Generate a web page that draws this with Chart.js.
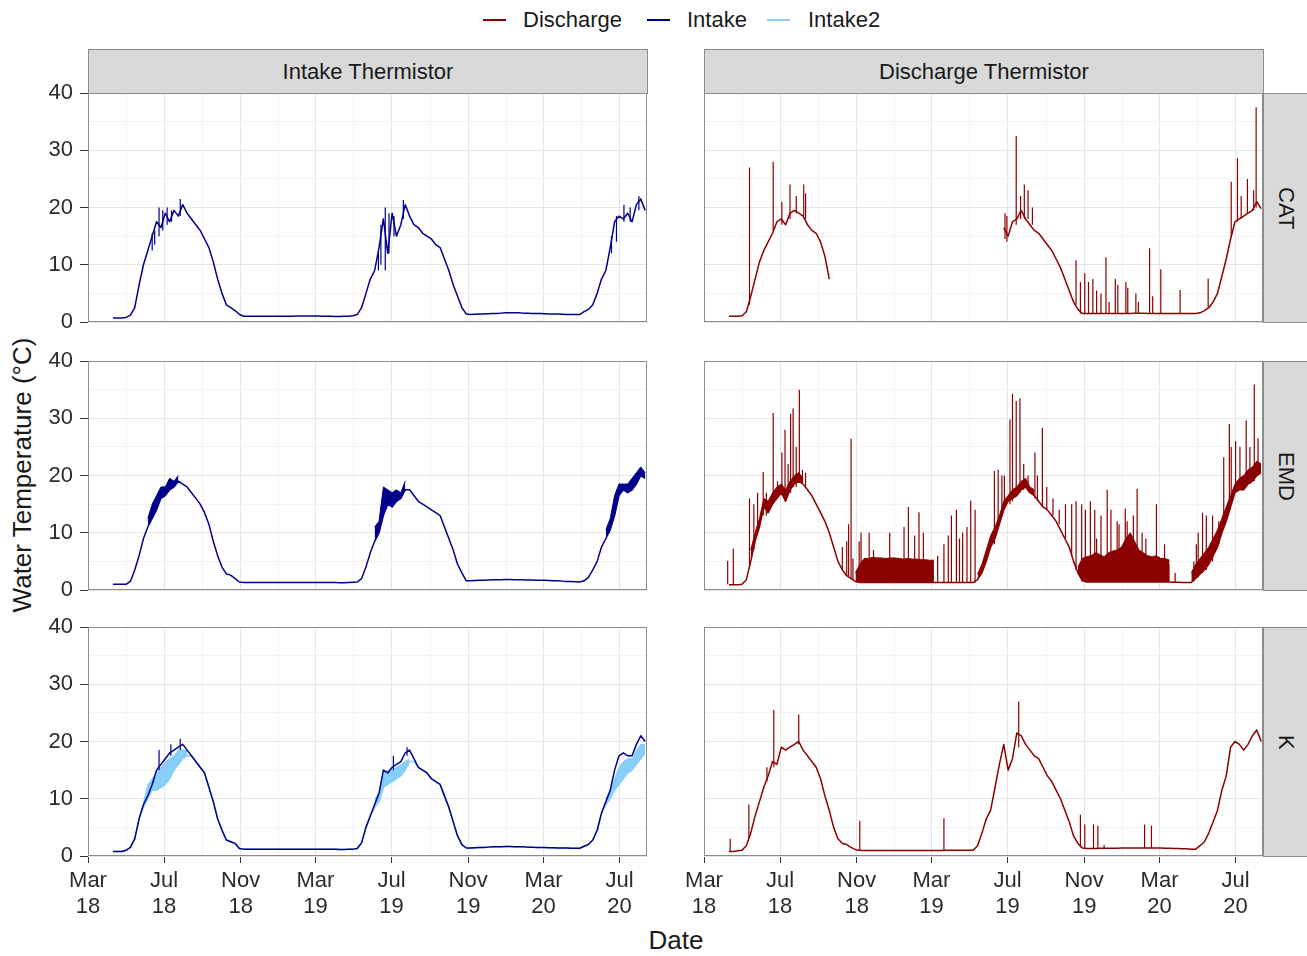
<!DOCTYPE html>
<html><head><meta charset="utf-8">
<script src="https://cdn.jsdelivr.net/npm/chart.js@4.4.1/dist/chart.umd.min.js"></script>
<style>
body{margin:0;background:#fff;width:1307px;height:956px;position:relative;overflow:hidden;font-family:'Liberation Sans',Arial,sans-serif;color:#1a1a1a}
canvas{position:absolute}
.strip{position:absolute;background:#d9d9d9;border:1px solid #8c8c8c;box-sizing:border-box;display:flex;align-items:center;justify-content:center;font-size:22px;color:#1a1a1a}
.vstrip span{writing-mode:vertical-rl}
.key{position:absolute;height:2px;width:23px}
.ltxt{position:absolute;font-size:22px;line-height:26px;top:7px;color:#1a1a1a;white-space:nowrap}
.title{position:absolute;font-size:26px;color:#1a1a1a;white-space:nowrap}
</style>
</head><body>
<div class="key" style="left:483px;top:19px;background:#8B0000"></div><div class="ltxt" style="left:523px">Discharge</div>
<div class="key" style="left:647px;top:19px;background:#00008B"></div><div class="ltxt" style="left:687px">Intake</div>
<div class="key" style="left:767px;top:19px;background:#87CEFA"></div><div class="ltxt" style="left:808px">Intake2</div>

<div class="strip" style="left:88px;top:49px;width:560px;height:45px">Intake Thermistor</div>
<div class="strip" style="left:704px;top:49px;width:560px;height:45px">Discharge Thermistor</div>
<div class="strip vstrip" style="left:1263px;top:93px;width:46px;height:230px"><span>CAT</span></div>
<div class="strip vstrip" style="left:1263px;top:361px;width:46px;height:230px"><span>EMD</span></div>
<div class="strip vstrip" style="left:1263px;top:627px;width:46px;height:230px"><span>K</span></div>

<div class="title" style="left:676px;top:940px;transform:translate(-50%,-50%)">Date</div>
<div class="title" style="left:22px;top:475px;transform:translate(-50%,-50%) rotate(-90deg)">Water Temperature (°C)</div>

<script>
// x values: days since 2018-03-01 (weekly samples)
const gridDays = [40,47,54,61,68,75,82,89,96,103,
110,117,124,131,138,145,152,159,166,173,
180,187,194,201,208,215,222,229,236,243,
250,257,264,271,278,285,292,299,306,313,
320,327,334,341,348,355,362,369,376,383,
390,397,404,411,418,425,432,439,446,453,
460,467,474,481,488,495,502,509,516,523,
530,537,544,551,558,565,572,579,586,593,
600,607,614,621,628,635,642,649,656,663,
670,677,684,691,698,705,712,719,726,733,
740,747,754,761,768,775,782,789,796,803,
810,817,824,831,838,845,852,859,866,873,
880,887,894];

const xMajorDays = [0,122,245,365,487,610,731,853];
const xMinorDays = [61,184,306,426,549,671,792];
const xTickLabels = [['Mar','18'],['Jul','18'],['Nov','18'],['Mar','19'],['Jul','19'],['Nov','19'],['Mar','20'],['Jul','20']];
const yMajor = [0,10,20,30,40];
const yMinor = [5,15,25,35];

const intakeCAT = [0.7,0.7,0.7,0.8,1.2,2.5,6.5,10,12.5,15,
17.5,16.5,19,17.5,19.5,18.5,20.5,19,18,17,
16,14.5,13,10.5,7.5,5,3,2.5,2,1.3,
1.0,1.0,1.0,1.0,1.0,1.0,1.0,1.0,1.0,1.0,
1.0,1.0,1.05,1.05,1.05,1.05,1.05,1.05,1.0,1.0,
1.0,0.95,0.95,1.0,1.0,1.1,1.3,2.5,5,7.5,
9,13,18,12,19,15,17,20.5,18.5,17,
16.5,15.5,15,14.5,13.5,13,11,9,6.5,4.5,
2.5,1.4,1.3,1.35,1.4,1.4,1.45,1.5,1.5,1.55,
1.6,1.6,1.6,1.6,1.55,1.55,1.5,1.5,1.5,1.45,
1.4,1.4,1.4,1.35,1.3,1.3,1.3,1.3,1.8,2.2,
3,5,7.5,9,13,17.5,18.5,18,19,17.5,
20.5,21.5,19.5];

const intakeEMD = [1.0,1.0,1.0,1.0,1.5,3.5,6,9,11,12.5,
14,16,16.5,17.5,18,19,18.5,18,17,16,
15,13.5,11.5,8.5,6,4,2.8,2.6,2,1.4,
1.3,1.3,1.3,1.3,1.3,1.3,1.3,1.3,1.3,1.3,
1.3,1.3,1.3,1.3,1.3,1.3,1.3,1.3,1.3,1.3,
1.3,1.3,1.25,1.25,1.3,1.35,1.4,2,4,6.5,
8.5,10,13,15,14.5,15.5,16,17.5,17.5,16.5,
15.5,15,14.5,14,13.5,13,11,9,7,4.5,
3,1.6,1.6,1.65,1.7,1.7,1.75,1.8,1.8,1.8,
1.85,1.85,1.8,1.8,1.8,1.75,1.75,1.7,1.7,1.7,
1.65,1.6,1.6,1.55,1.5,1.5,1.45,1.4,1.6,2.2,
3.5,5,7.5,9,10.5,13,16.5,17.5,17,17.5,
18.5,20,19.5];

const intakeEMDNoise = [null,null,null,null,null,null,null,null,12.5,15,
16.5,18,18,19.5,19,20,null,null,null,null,
null,null,null,null,null,null,null,null,null,null,
null,null,null,null,null,null,null,null,null,null,
null,null,null,null,null,null,null,null,null,null,
null,null,null,null,null,null,null,null,null,null,
11,12,18,17.5,17,17.5,17,19,null,null,
null,null,null,null,null,null,null,null,null,null,
null,null,null,null,null,null,null,null,null,null,
null,null,null,null,null,null,null,null,null,null,
null,null,null,null,null,null,null,null,null,null,
null,null,null,10.5,12.5,16.5,18.5,18.5,18.5,19.5,
20.5,21.5,20.5];

const intakeK = [0.8,0.8,0.8,1.0,1.5,3,6.5,9,10.5,12.5,
15,16,17,18,18.5,19,19.5,18.5,17.5,16.5,
15.5,14.5,12,9.5,6.5,4.5,2.8,2.5,2.2,1.3,
1.2,1.2,1.2,1.2,1.2,1.2,1.2,1.2,1.2,1.2,
1.2,1.2,1.2,1.2,1.2,1.2,1.2,1.2,1.2,1.2,
1.2,1.2,1.15,1.15,1.2,1.2,1.3,2.3,5,7,
9,11,15,14.5,15.5,16,16.5,18,18.5,17,
15.5,15,14.5,13.5,13,12.5,10.5,8.5,6,3.5,
2,1.4,1.4,1.45,1.5,1.5,1.55,1.6,1.6,1.6,
1.65,1.65,1.6,1.6,1.6,1.55,1.55,1.5,1.5,1.5,
1.45,1.45,1.4,1.4,1.4,1.35,1.35,1.35,1.7,2,
2.8,4.5,7.5,9.5,11.5,15,17.5,18,17.5,17.5,
19.5,21,20];

const intake2K = [0.8,0.8,0.8,1.0,1.5,3,6.5,8.5,10,11.5,
11.5,12,12.5,13.5,15,16,17,17.5,17.5,16.5,
15.5,14.5,12,9.5,6.5,4.5,2.8,2.5,2.2,1.3,
1.2,1.2,1.2,1.2,1.2,1.2,1.2,1.2,1.2,1.2,
1.2,1.2,1.2,1.2,1.2,1.2,1.2,1.2,1.2,1.2,
1.2,1.2,1.15,1.15,1.2,1.2,1.3,2.3,5,7,
8.5,9.5,12,12.5,13,13.5,14,15,16.5,16.5,
15.5,15,14.5,13.5,13,12.5,10.5,8.5,6,3.5,
2,1.4,1.4,1.45,1.5,1.5,1.55,1.6,1.6,1.6,
1.65,1.65,1.6,1.6,1.6,1.55,1.55,1.5,1.5,1.5,
1.45,1.45,1.4,1.4,1.4,1.35,1.35,1.35,1.7,2,
2.8,4.5,7.5,9,10,11.5,12.5,13.5,14.5,15,
16,17,18];

const intake2KNoise = [null,null,null,null,null,null,null,9.5,12.5,13.5,
14.5,15.5,16.5,17,17.5,18.5,18.5,18.5,null,null,
null,null,null,null,null,null,null,null,null,null,
null,null,null,null,null,null,null,null,null,null,
null,null,null,null,null,null,null,null,null,null,
null,null,null,null,null,null,null,null,null,null,
10,11,14.5,15,15,15.5,16,16.5,17,null,
null,null,null,null,null,null,null,null,null,null,
null,null,null,null,null,null,null,null,null,null,
null,null,null,null,null,null,null,null,null,null,
null,null,null,null,null,null,null,null,null,null,
null,null,null,10,11.5,13.5,15.5,16.5,17,17,
18.5,19.5,19.5];

const dischargeCAT = [1.0,1.0,1.0,1.1,1.8,4.5,7.5,10.5,12.5,14,
15.5,17.5,18,17,19,19.5,19,18.5,17,16,
15.5,14,11.5,7.5,null,null,null,null,null,null,
null,null,null,null,null,null,null,null,null,null,
null,null,null,null,null,null,null,null,null,null,
null,null,null,null,null,null,null,null,null,null,
null,null,null,16.5,15,17.5,18,19.5,18,17,
16,15.5,14.5,13.5,12.5,11,9.5,7.5,5.5,3.5,
2.2,1.5,1.5,1.5,1.5,1.5,1.5,1.5,1.5,1.5,
1.5,1.5,1.5,1.55,1.55,1.55,1.5,1.5,1.5,1.5,
1.5,1.5,1.5,1.5,1.5,1.5,1.5,1.5,1.6,2,
2.5,3.5,5,8,11,14.5,17.5,18,18.5,19,
19.5,21,19.8];

const dischargeEMD = [0.9,0.9,0.9,1.0,1.8,5,8.5,11,14.5,13.5,
15,16,17,15.5,17.5,18.5,19,18.5,17.5,16.5,
15,13.5,12,10,7.5,5,3.5,2.5,2,1.5,
1.3,1.3,1.3,1.3,1.3,1.3,1.3,1.3,1.3,1.3,
1.3,1.3,1.3,1.3,1.3,1.3,1.3,1.3,1.3,1.3,
1.3,1.3,1.3,1.3,1.3,1.3,1.3,1.8,3,5,
7.5,9,11.5,14,15.5,16,16.5,17.5,18,17,
16.5,15.5,14.5,14,13,12,10.5,9,7.5,5,
3,1.6,1.4,1.4,1.4,1.4,1.4,1.4,1.4,1.4,
1.4,1.4,1.4,1.4,1.4,1.4,1.4,1.4,1.4,1.4,
1.4,1.4,1.35,1.35,1.3,1.3,1.3,2,2.8,3.5,
4.5,6,7.5,10,12,14.5,17,17.5,17.5,18.5,
19,20,20.5];

const dischargeEMDNoise = [null,null,null,null,null,7,10,12.5,16,15.5,
17,18,18.5,17.5,19,20,20.5,19.5,null,null,
null,null,null,null,null,null,null,null,null,3,
4.5,5.5,5.5,5.7,5.6,5.6,5.5,5.6,5.6,5.5,
5.4,5.5,5.4,5.4,5.3,5.3,5.2,5.2,null,null,
null,null,null,null,null,null,null,2.8,4.5,7,
9.5,11,13,15.5,16.5,17.5,18,19,19.5,18,
17.5,null,null,null,null,null,null,null,null,null,
4,5.5,5.8,6,6.5,6.2,5.8,6.5,6.8,7,
7.5,9,10,8.5,7,6.5,6,5.8,6,5.5,
5.5,5.2,null,null,null,null,3,4.5,5.5,6.5,
7.5,9,10.5,12.5,14.5,16.5,18.5,19.5,20,21,
21.5,22.5,22];

const dischargeK = [0.8,0.8,0.9,1.0,1.8,4,7,9.5,12,14,
16.5,16,19,18.5,19,19.5,20,18.5,17.5,16.5,
15.5,13.5,10.5,8,5,3,2.2,2,1.5,1.1,
1.0,0.95,0.95,0.95,0.95,0.95,0.95,0.95,0.95,0.95,
0.95,0.95,0.95,0.95,0.95,0.95,0.95,0.95,0.95,0.95,
1.0,1.0,1.0,1.0,1.0,1.0,1.0,1.8,4,6.5,
8,12,16,19.5,15,17,21.5,21,19.5,18.5,
17.5,17,15.5,14,13,11.5,10,8,6,3.5,
2.2,1.4,1.3,1.3,1.3,1.35,1.35,1.35,1.35,1.35,
1.4,1.4,1.4,1.4,1.4,1.4,1.4,1.4,1.4,1.4,
1.35,1.35,1.3,1.3,1.25,1.25,1.2,1.2,1.8,2.5,
4,6,8,11.5,14,19,20,19.5,18.5,19.5,
21,22,20];

// short spikes: [day, low, high]
const intakeCATSpikes = [[103,12.5,15.5],[107,13.5,16],[114,15,20],[120,16,19.5],[127,17,20],[134,17.5,19.5],[148,18.5,21.5],[466,9,12],[470,10,17],[477,9,20],[483,12,19],[491,15,18.5],[506,18,21.3],[840,12,15],[848,14,18.5],[860,17.5,20.5],[870,17.5,20],[884,19.5,22]];
const intakeKSpikes = [[114,15,18.5],[133,17.5,19.5],[148,18.5,20.5],[490,15,17.5],[512,17.5,19]];
const dischargeCATSpikes = [[73,3,27],[111,16,28],[125,17,21],[138,18,24],[148,19,22],[160,18.5,24],[163,18,22.5],
[483,14.5,19],[486,14,18.5],[501,17,32.5],[508,18,22],[514,18,24],[520,18,23],[527,17,20],
[597,3,10.8],[604,1.5,7],[611,1.5,8.5],[617,1.5,7],[624,1.5,7.5],[630,1.5,5.5],[637,1.5,5],[645,1.5,11.3],[650,1.5,3.5],[660,1.5,7.5],[664,1.5,6.5],[677,1.5,7],[680,1.5,6],[693,1.5,5],[697,1.5,3.5],[715,1.5,12.9],[720,1.5,4.5],[733,1.5,9.2],[764,1.5,5.6],
[809,2.5,7.6],[846,15,24.5],[856,17.5,28.6],[862,18,22],[872,19,25],[882,19.5,23],[886,20,37.5]];
const dischargeEMDSpikes = [[38,1,5.1],[47,1,7.2],[73,4,16],[80,7,15],[86,10,17],[95,13,20.6],[100,13,17],[111,15,30.9],[118,16,19],[125,16.5,24],[130,15.5,28],[135,17,22],[139,17,30.8],[143,18,31.7],[148,18,25],[153,19,35],[158,18.5,21],[163,18,20.5],
[222,3.5,7.5],[229,2.5,8.5],[232,2.3,11.5],[236,2,26.4],[239,1.8,5.5],[249,1.4,8.5],[252,1.3,10],[265,1.3,10],[272,1.3,7],[298,1.3,10],[321,1.3,11],[328,1.3,14.5],[338,1.3,9.5],[345,1.3,13.6],[352,1.3,10],[375,1.3,6],[385,1.3,8],[392,1.3,9.5],[397,1.3,13],[405,1.3,14],[410,1.3,9],[415,1.3,10],[422,1.3,11],[428,1.3,15.6],[435,1.3,14],
[466,8,20.8],[472,11,21],[478,13,20],[482,14,20],[491,15,29.8],[495,15.5,34.3],[501,16.5,33],[507,17,33.5],[513,17.5,22],[520,17.5,20],[531,16,24],[535,15.5,20],[543,14.5,28.3],[550,14,18],[560,13,16],[570,11.5,14],[580,9,15],
[590,6,15],[597,3.5,15.5],[606,1.6,15],[612,1.4,14],[620,1.4,15.5],[627,1.4,14],[630,1.4,9],[637,1.4,13],[647,1.4,17.5],[653,1.4,14],[663,1.4,12],[666,1.4,11.5],[676,1.4,14.2],[679,1.4,12],[689,1.4,13],[695,1.4,17.7],[703,1.4,10],[709,1.4,9],[726,1.4,15],[739,1.4,8],[746,1.4,4.5],[756,1.4,3],
[786,1.5,5],[790,2,8],[793,2.2,10],[800,3,13.5],[806,3.5,13],[816,5,13],[826,8,12],[834,11,23.2],[843,14,29],[846,15,25],[853,17,26],[860,17.5,25],[870,18,29.6],[876,18.5,25],[883,19,35.9],[889,20,26.5]];
const dischargeKSpikes = [[42,0.8,3],[72,3,9],[101,13,15.5],[112,15.5,25.5],[152,19.5,24.7],[250,1.0,6.1],[385,1.0,6.6],[505,19,27],[604,1.5,7.2],[611,1.4,5.5],[625,1.3,5.5],[632,1.3,5.3],[642,1.3,1.9],[707,1.4,5.5],[718,1.4,5.3]];

const RED='#8B0000', NAVY='#00008B', LIGHT='#87CEFA';
const FONT="'Liberation Sans', Arial, sans-serif";
const X_MAX=897;
const PANEL_W=559, PANEL_H=229, YAX=80, XAX=80, M=30;
const colX=[88,704], rowY=[93,361,627];

const toXY = vals => gridDays.map((d,i)=>({x:d,y:vals[i]}));
const spikesXY = sp => sp.flatMap(([d,lo,hi])=>[{x:d,y:lo},{x:d,y:hi},{x:d,y:null}]);
const line = (vals,color,w) => ({data:toXY(vals),borderColor:color,borderWidth:w||1.5,pointRadius:0,fill:false,spanGaps:false});
const band = (vals,color) => ({data:toXY(vals),borderColor:color,backgroundColor:color,borderWidth:1,pointRadius:0,fill:'-1',spanGaps:false});
const spikes = (sp,color) => ({data:spikesXY(sp),borderColor:color,borderWidth:1.2,pointRadius:0,fill:false,spanGaps:false});

const borderPlugin = {id:'panelBorder', afterDraw(chart){
  const {ctx,chartArea:a}=chart; ctx.save(); ctx.strokeStyle='#8c8c8c'; ctx.lineWidth=1;
  ctx.strokeRect(Math.round(a.left)+0.5, Math.round(a.top)+0.5, Math.round(a.right-a.left)-1, Math.round(a.bottom-a.top)-1);
  ctx.restore();
}};

function zeroPad(s){ s.paddingTop=0; s.paddingBottom=0; s.paddingLeft=0; s.paddingRight=0; }

function makeChart(col,row,datasets){
  const showY = col===0, showX = row===2;
  const yax = showY?YAX:0, xax = showX?XAX:0;
  const w = PANEL_W+yax+2*M, h = PANEL_H+xax+2*M;
  const c = document.createElement('canvas');
  c.width=w; c.height=h;
  c.style.left=(colX[col]-yax-M)+'px'; c.style.top=(rowY[row]-M)+'px';
  c.style.width=w+'px'; c.style.height=h+'px';
  document.body.appendChild(c);
  const MAJ='#e6e6e6', MIN='#f3f3f3';
  new Chart(c,{type:'line',data:{datasets},plugins:[borderPlugin],options:{
    responsive:false, animation:false, devicePixelRatio:1, events:[],
    layout:{padding:{left:M,right:M,top:M,bottom:M}, autoPadding:false},
    plugins:{legend:{display:false},tooltip:{enabled:false}},
    elements:{line:{borderJoinStyle:'round',tension:0},point:{radius:0}},
    scales:{
      x:{type:'linear',min:0,max:X_MAX,
        afterBuildTicks:s=>{s.ticks=[...xMajorDays,...xMinorDays].sort((a,b)=>a-b).map(v=>({value:v}));},
        afterFit:s=>{s.height=xax; zeroPad(s);},
        border:{display:false},
        grid:{color:ctx=>(ctx.tick&&xMajorDays.includes(ctx.tick.value))?MAJ:MIN,lineWidth:1,drawTicks:showX,tickLength:7,tickWidth:1,
          tickColor:ctx=>(ctx.tick&&xMajorDays.includes(ctx.tick.value))?'#333':'rgba(0,0,0,0)'},
        ticks:{display:showX,autoSkip:false,maxRotation:0,minRotation:0,padding:5,color:'#2b2b2b',font:{family:FONT,size:22,lineHeight:1.17},
          callback:v=>{const i=xMajorDays.indexOf(v);return i>=0?xTickLabels[i]:'';}}
      },
      y:{type:'linear',min:0,max:40,
        afterBuildTicks:s=>{s.ticks=[...yMajor,...yMinor].sort((a,b)=>a-b).map(v=>({value:v}));},
        afterFit:s=>{s.width=yax; zeroPad(s);},
        border:{display:false},
        grid:{color:ctx=>(ctx.tick&&yMajor.includes(ctx.tick.value))?MAJ:MIN,lineWidth:1,drawTicks:showY,tickLength:8,tickWidth:1,
          tickColor:ctx=>(ctx.tick&&yMajor.includes(ctx.tick.value))?'#333':'rgba(0,0,0,0)'},
        ticks:{display:showY,autoSkip:false,padding:7,color:'#2b2b2b',font:{family:FONT,size:22},
          callback:v=>yMajor.includes(v)?String(v):''}
      }
    }
  }});
}

makeChart(0,0,[line(intakeCAT,NAVY),spikes(intakeCATSpikes,NAVY)]);
makeChart(0,1,[line(intakeEMD,NAVY),band(intakeEMDNoise,NAVY)]);
makeChart(0,2,[line(intakeK,NAVY),spikes(intakeKSpikes,NAVY),line(intake2K,LIGHT),band(intake2KNoise,LIGHT)]);
makeChart(1,0,[line(dischargeCAT,RED),spikes(dischargeCATSpikes,RED)]);
makeChart(1,1,[line(dischargeEMD,RED),band(dischargeEMDNoise,RED),spikes(dischargeEMDSpikes,RED)]);
makeChart(1,2,[line(dischargeK,RED),spikes(dischargeKSpikes,RED)]);
</script>
</body></html>
